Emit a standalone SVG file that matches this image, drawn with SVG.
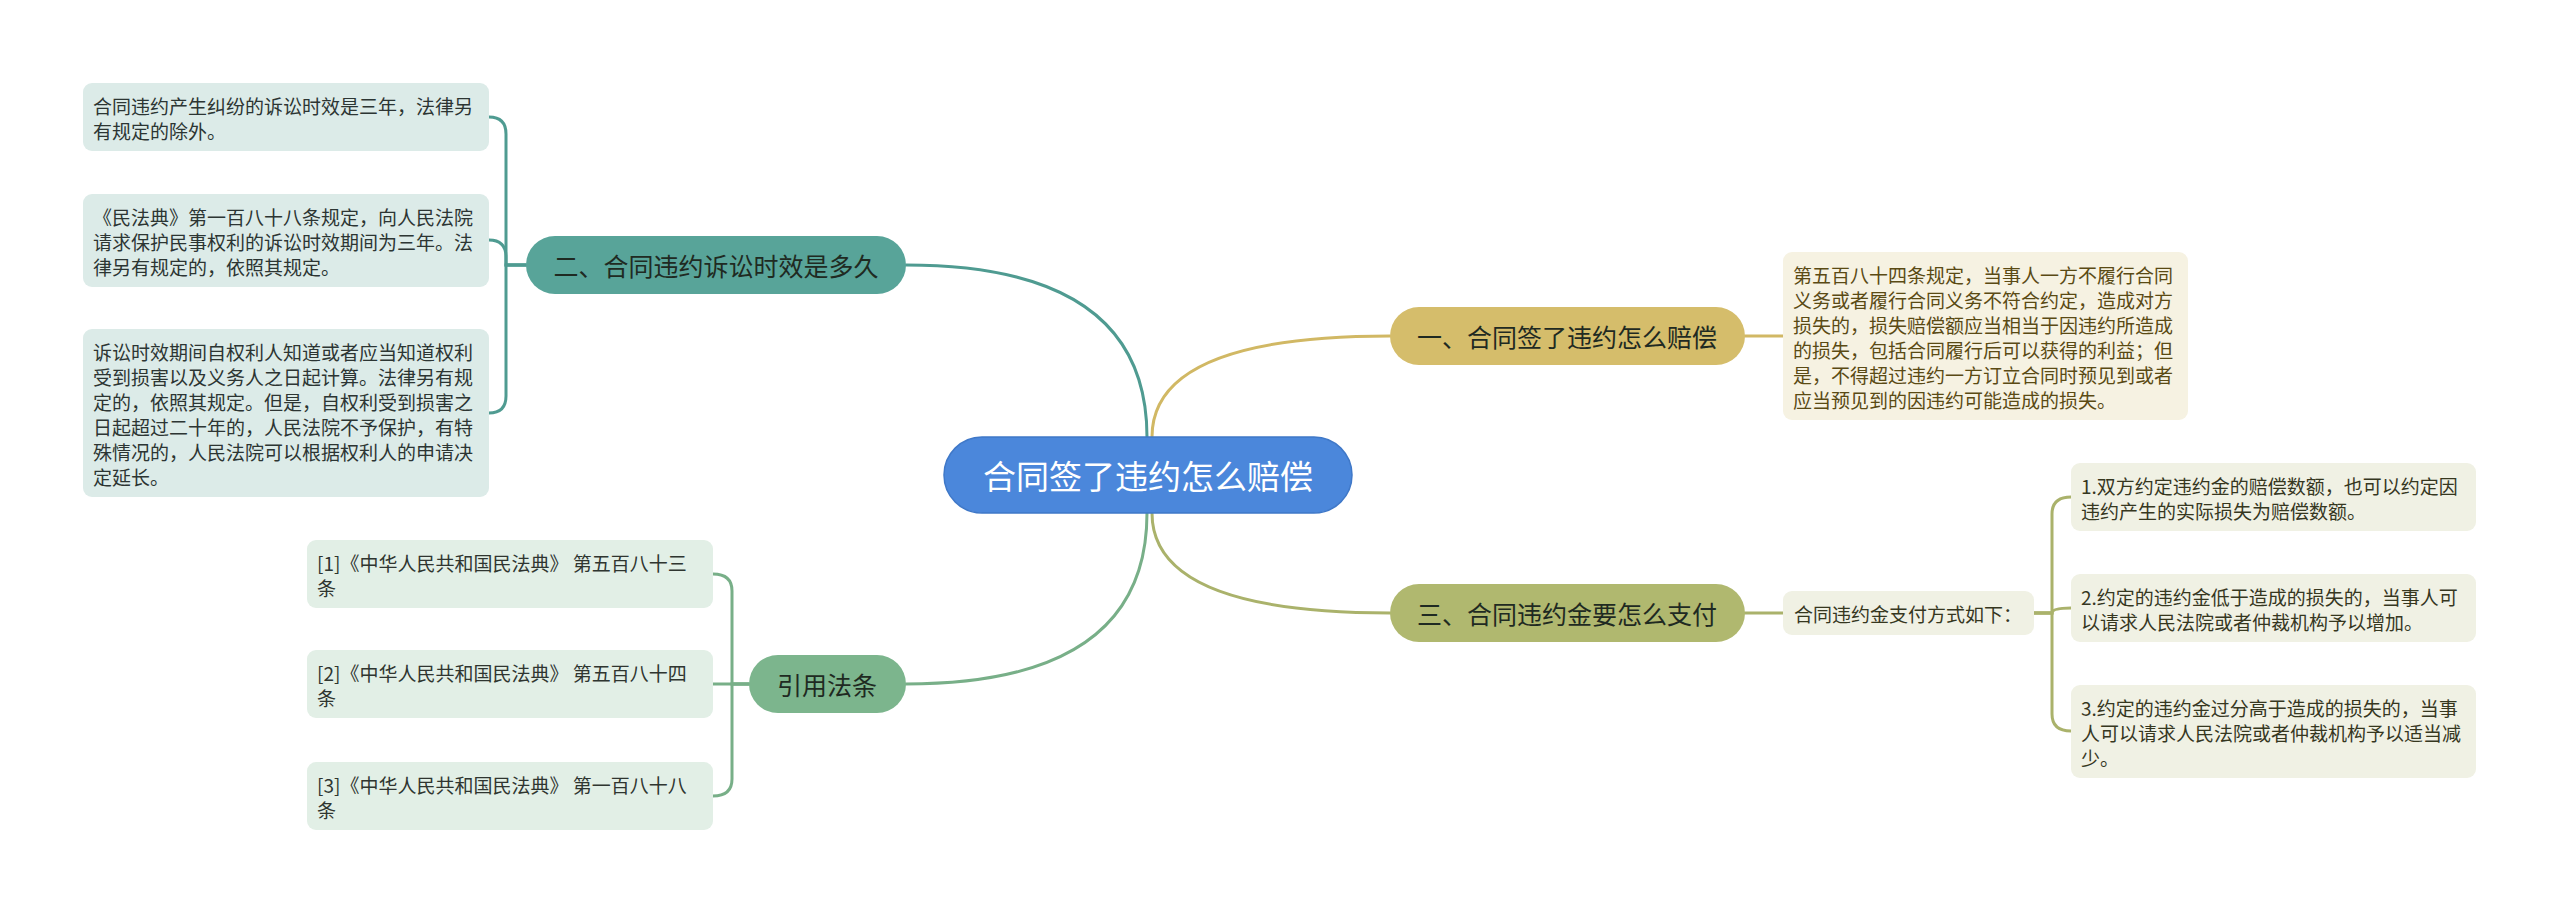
<svg xmlns="http://www.w3.org/2000/svg" width="2560" height="913" viewBox="0 0 2560 913">
<style>
text{font-family:"Noto Sans CJK SC","Noto Sans",sans-serif;dominant-baseline:central}
.d{font-size:19px}
.b{font-size:25px;fill:#1f2a22}
.c{font-size:33px;fill:#ffffff}
.ln{fill:none;stroke-width:3;stroke-linecap:round}
.teal{stroke:#4f9b91}.green{stroke:#78af88}.gold{stroke:#d1b864}.olive{stroke:#aab26b}
.tb{fill:#dcebe8}.gb{fill:#e2efe6}.yb{fill:#f6f2e2}.ob{fill:#f0f1e4}
.tt{fill:#2c3533}.gt{fill:#2f3530}.yt{fill:#5a4a14}.ot{fill:#36371f}
</style>
<rect width="2560" height="913" fill="#ffffff"/>
<g id="connectors">
<path class="ln teal" d="M1147 437 Q1147 265 906 265"/>
<path class="ln gold" d="M1152 437 Q1152 336 1390 336"/>
<path class="ln olive" d="M1152 513 Q1152 613 1390 613"/>
<path class="ln green" d="M1147 513 Q1147 684 906 684"/>
<path class="ln teal" d="M526 265 H506 V134 Q506 117 489 117"/>
<path class="ln teal" d="M526 265 H506 V257 Q506 240 489 240"/>
<path class="ln teal" d="M526 265 H506 V396 Q506 413 489 413"/>
<path class="ln green" d="M749 684 H732 V591 Q732 574 713 574"/>
<path class="ln green" d="M749 684 H713"/>
<path class="ln green" d="M749 684 H732 V779 Q732 796 713 796"/>
<path class="ln gold" d="M1745 336 H1783"/>
<path class="ln olive" d="M1745 613 H1783"/>
<path class="ln olive" d="M2034 613 H2052 V514 Q2052 497 2071 497"/>
<path class="ln olive" d="M2034 613 H2052 Q2052 608 2071 608"/>
<path class="ln olive" d="M2034 613 H2052 V714 Q2052 731 2071 731"/>
</g>
<g id="root">
<rect x="944" y="437" width="408" height="76" rx="38" fill="#4b87db" stroke="#3f78c8" stroke-width="1.5"/>
<text class="c" x="1148" y="475" text-anchor="middle">合同签了违约怎么赔偿</text>
</g>
<g id="branch1">
<rect x="1390" y="307" width="355" height="58" rx="29" fill="#d5bd6b"/>
<text class="b" x="1567" y="336" text-anchor="middle">一、合同签了违约怎么赔偿</text>
</g>
<g id="branch2">
<rect x="526" y="236" width="380" height="58" rx="29" fill="#58a499"/>
<text class="b" x="716" y="265" text-anchor="middle">二、合同违约诉讼时效是多久</text>
</g>
<g id="branch3">
<rect x="1390" y="584" width="355" height="58" rx="29" fill="#b0b86f"/>
<text class="b" x="1567" y="613" text-anchor="middle">三、合同违约金要怎么支付</text>
</g>
<g id="branch4">
<rect x="749" y="655" width="157" height="58" rx="29" fill="#7cb58d"/>
<text class="b" x="827" y="684" text-anchor="middle">引用法条</text>
</g>
<g id="b2-1">
<rect class="tb" x="83" y="83" width="406" height="68" rx="9"/>
<text class="d tt" x="93" y="105">合同违约产生纠纷的诉讼时效是三年，法律另</text>
<text class="d tt" x="93" y="130">有规定的除外。</text>
</g>
<g id="b2-2">
<rect class="tb" x="83" y="194" width="406" height="93" rx="9"/>
<text class="d tt" x="93" y="216">《民法典》第一百八十八条规定，向人民法院</text>
<text class="d tt" x="93" y="241">请求保护民事权利的诉讼时效期间为三年。法</text>
<text class="d tt" x="93" y="266">律另有规定的，依照其规定。</text>
</g>
<g id="b2-3">
<rect class="tb" x="83" y="329" width="406" height="168" rx="9"/>
<text class="d tt" x="93" y="351">诉讼时效期间自权利人知道或者应当知道权利</text>
<text class="d tt" x="93" y="376">受到损害以及义务人之日起计算。法律另有规</text>
<text class="d tt" x="93" y="401">定的，依照其规定。但是，自权利受到损害之</text>
<text class="d tt" x="93" y="426">日起超过二十年的，人民法院不予保护，有特</text>
<text class="d tt" x="93" y="451">殊情况的，人民法院可以根据权利人的申请决</text>
<text class="d tt" x="93" y="476">定延长。</text>
</g>
<g id="ref-1">
<rect class="gb" x="307" y="540" width="406" height="68" rx="9"/>
<text class="d gt" x="317" y="562">[1]《中华人民共和国民法典》 第五百八十三</text>
<text class="d gt" x="317" y="587">条</text>
</g>
<g id="ref-2">
<rect class="gb" x="307" y="650" width="406" height="68" rx="9"/>
<text class="d gt" x="317" y="672">[2]《中华人民共和国民法典》 第五百八十四</text>
<text class="d gt" x="317" y="697">条</text>
</g>
<g id="ref-3">
<rect class="gb" x="307" y="762" width="406" height="68" rx="9"/>
<text class="d gt" x="317" y="784">[3]《中华人民共和国民法典》 第一百八十八</text>
<text class="d gt" x="317" y="809">条</text>
</g>
<g id="b1-1">
<rect class="yb" x="1783" y="252" width="405" height="168" rx="9"/>
<text class="d yt" x="1793" y="274">第五百八十四条规定，当事人一方不履行合同</text>
<text class="d yt" x="1793" y="299">义务或者履行合同义务不符合约定，造成对方</text>
<text class="d yt" x="1793" y="324">损失的，损失赔偿额应当相当于因违约所造成</text>
<text class="d yt" x="1793" y="349">的损失，包括合同履行后可以获得的利益；但</text>
<text class="d yt" x="1793" y="374">是，不得超过违约一方订立合同时预见到或者</text>
<text class="d yt" x="1793" y="399">应当预见到的因违约可能造成的损失。</text>
</g>
<g id="b3-1">
<rect class="ob" x="1783" y="591" width="251" height="44" rx="9"/>
<text class="d ot" x="1794" y="613">合同违约金支付方式如下：</text>
</g>
<g id="b3-1-1">
<rect class="ob" x="2071" y="463" width="405" height="68" rx="9"/>
<text class="d ot" x="2081" y="485">1.双方约定违约金的赔偿数额，也可以约定因</text>
<text class="d ot" x="2081" y="510">违约产生的实际损失为赔偿数额。</text>
</g>
<g id="b3-1-2">
<rect class="ob" x="2071" y="574" width="405" height="68" rx="9"/>
<text class="d ot" x="2081" y="596">2.约定的违约金低于造成的损失的，当事人可</text>
<text class="d ot" x="2081" y="621">以请求人民法院或者仲裁机构予以增加。</text>
</g>
<g id="b3-1-3">
<rect class="ob" x="2071" y="685" width="405" height="93" rx="9"/>
<text class="d ot" x="2081" y="707">3.约定的违约金过分高于造成的损失的，当事</text>
<text class="d ot" x="2081" y="732">人可以请求人民法院或者仲裁机构予以适当减</text>
<text class="d ot" x="2081" y="757">少。</text>
</g>
</svg>
